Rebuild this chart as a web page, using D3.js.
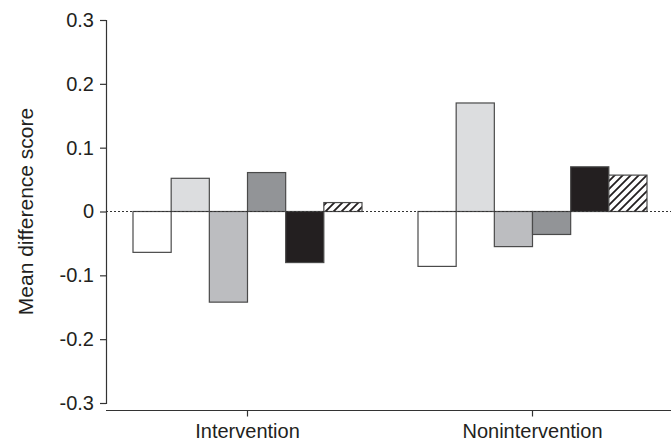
<!DOCTYPE html>
<html>
<head>
<meta charset="utf-8">
<script src="https://cdn.jsdelivr.net/npm/d3@7"></script>
<style>
  html, body { margin: 0; padding: 0; background: #fff; }
  svg text { font-family: "Liberation Sans", Arial, sans-serif; fill: #231f20; }
</style>
</head>
<body>
<svg id="chart" width="671" height="440"></svg>
<script>
// Groups on the x axis
const categories = ["Intervention", "Nonintervention"];
// Six measures shown side by side within each group
const seriesNames = ["Measure 1", "Measure 2", "Measure 3", "Measure 4", "Measure 5", "Measure 6"];
// Mean difference scores, one array per group (ordered as seriesNames)
const interventionValues = [-0.064, 0.052, -0.142, 0.061, -0.080, 0.014];
const noninterventionValues = [-0.086, 0.170, -0.055, -0.036, 0.070, 0.057];
// Y axis tick values and labels
const yTickValues = [-0.3, -0.2, -0.1, 0, 0.1, 0.2, 0.3];
const yTickLabels = ["-0.3", "-0.2", "-0.1", "0", "0.1", "0.2", "0.3"];
const yTitle = "Mean difference score";

const valuesByGroup = [interventionValues, noninterventionValues];
const fills = ["#ffffff", "#dcdddf", "#bcbdc0", "#929497", "#231f20", "url(#hatch)"];

const svg = d3.select("#chart");

// Diagonal hatch for the last measure
const defs = svg.append("defs");
const pat = defs.append("pattern")
  .attr("id", "hatch")
  .attr("patternUnits", "userSpaceOnUse")
  .attr("width", 8).attr("height", 8);
pat.append("rect").attr("width", 8).attr("height", 8).attr("fill", "#fff");
pat.append("path")
  .attr("d", "M-2,2 L2,-2 M0,8 L8,0 M6,10 L10,6")
  .attr("stroke", "#231f20").attr("stroke-width", 1.8);

const y = d3.scaleLinear().domain([-0.3, 0.3]).range([403, 20]);
const x0 = d3.scaleBand().domain(categories).range([105, 675]).padding(0);
const groupW = 229;
const x1 = d3.scaleBand().domain(seriesNames)
  .range([(x0.bandwidth() - groupW) / 2, (x0.bandwidth() + groupW) / 2]).padding(0);

// Y axis
const yAxis = d3.axisLeft(y)
  .tickValues(yTickValues)
  .tickFormat((d, i) => yTickLabels[i])
  .tickSizeOuter(0)
  .tickSize(6)
  .tickPadding(6);
const gy = svg.append("g").attr("transform", "translate(106,0)").call(yAxis);
gy.selectAll("path, line").attr("stroke", "#333").attr("stroke-width", 1.2);
gy.selectAll("text").style("font-size", "20px");

// X axis, offset below the y axis
const xAxis = d3.axisBottom(x0).tickSizeOuter(0).tickSize(6).tickPadding(6);
const gx = svg.append("g").attr("transform", "translate(0,410.5)").call(xAxis);
gx.select(".domain").attr("d", "M106,0H671");
gx.selectAll("path, line").attr("stroke", "#333").attr("stroke-width", 1.2);
gx.selectAll("text").style("font-size", "20px").attr("dy", "0.75em");

// Y title
svg.append("text")
  .attr("transform", `translate(33,${(y(0.3) + y(-0.3)) / 2}) rotate(-90)`)
  .attr("text-anchor", "middle")
  .style("font-size", "21px")
  .text(yTitle);

// Bars
const groups = svg.append("g").selectAll("g")
  .data(categories)
  .join("g")
  .attr("transform", d => `translate(${x0(d)},0)`);

groups.selectAll("rect")
  .data((c, gi) => seriesNames.map((s, si) => ({ s, si, v: valuesByGroup[gi][si] })))
  .join("rect")
  .attr("x", d => x1(d.s))
  .attr("width", x1.bandwidth())
  .attr("y", d => y(Math.max(0, d.v)))
  .attr("height", d => Math.abs(y(d.v) - y(0)))
  .attr("fill", d => fills[d.si])
  .attr("stroke", "#4a4a4a")
  .attr("stroke-width", 1.2);

// Dotted zero line
svg.append("line")
  .attr("x1", 106).attr("x2", 671)
  .attr("y1", y(0)).attr("y2", y(0))
  .attr("stroke", "#333")
  .attr("stroke-width", 1.2)
  .attr("stroke-dasharray", "2,2");
</script>
</body>
</html>
